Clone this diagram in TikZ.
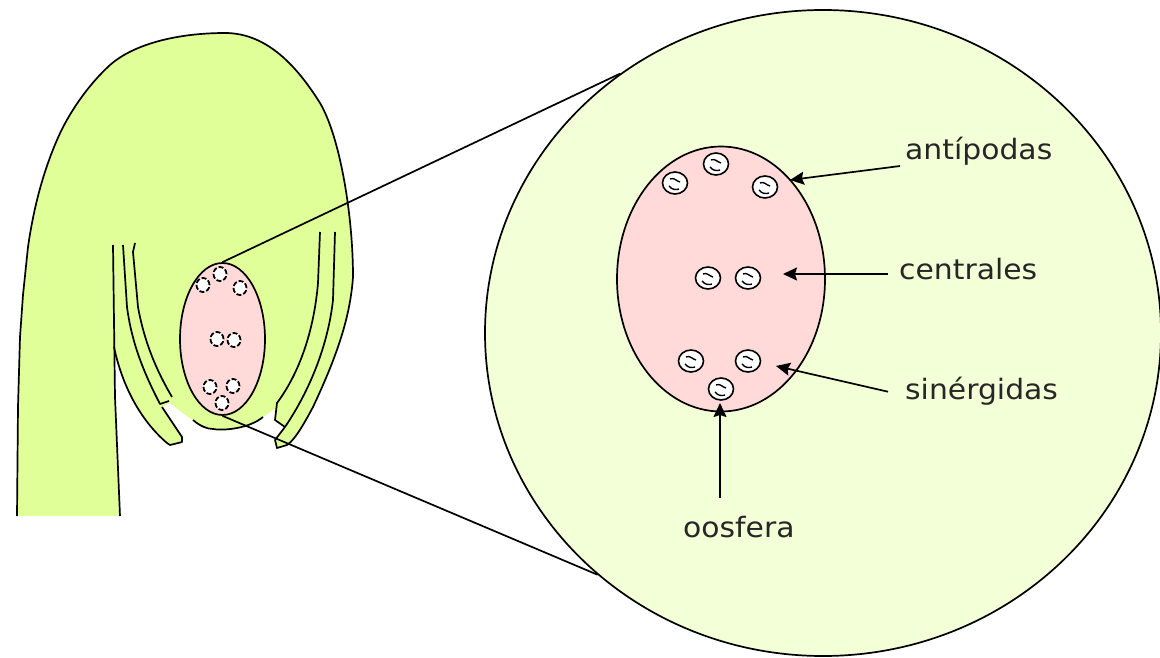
\documentclass[tikz,border=0pt]{standalone}
\usepackage{fontspec}
\setmainfont{DejaVu Sans}
\usetikzlibrary{shapes.geometric,arrows.meta,calc}
\definecolor{tissue}{RGB}{224,255,153}
\definecolor{lens}{RGB}{243,255,214}
\definecolor{sac}{RGB}{255,218,216}
\tikzset{
  outline/.style={line width=1.7pt,black,line join=round},
  sacshape/.style={ellipse,draw,line width=1.7pt,fill=sac,inner sep=0pt},
  nucleus/.style={ellipse,draw,line width=1.6pt,fill=white,minimum width=25pt,minimum height=22pt,inner sep=0pt},
  smallnucleus/.style={ellipse,draw,line width=1.8pt,dash pattern=on 5pt off 2pt,fill=white,minimum width=13pt,minimum height=14pt,inner sep=0pt},
  pointer/.style={line width=1.7pt,-{Stealth[length=14pt,width=13pt,inset=2pt]}},
  tag/.style={font=\fontsize{28}{28}\selectfont,inner sep=0pt,text=black!85}
}
% contour of the pistil from the stalk over the top down to the right tip
\newcommand{\mainedge}{(17,516) -- (18,407) -- (20,337) -- (23,295) -- (28,247)
  .. controls (34,205) and (44,170) .. (57,140)
  .. controls (68,114) and (88,85) .. (110,65)
  .. controls (135,43) and (180,33) .. (225,33)
  .. controls (268,33) and (298,68) .. (320,103)
  .. controls (340,137) and (353,215) .. (353,277)
  .. controls (350,320) and (335,360) .. (313,407)
  .. controls (305,422) and (295,440) .. (287,445)
  -- (277,448) -- (275,440) -- (285,427)}
\begin{document}
\begin{tikzpicture}[x=1pt,y=-1pt]
\useasboundingbox (0,0) rectangle (1160,658);
% enlarged circle
\node[ellipse,draw,line width=1.7pt,fill=lens,minimum width=676pt,minimum height=646pt,inner sep=0pt] (lens) at (823,333) {};

% pistil tissue
\fill[tissue] \mainedge
  -- (275,420) -- (276,408)
  -- (263,417) .. controls (250,428) and (225,431) .. (213,429)
  .. controls (200,427) and (185,415) .. (170,403)
  -- (162,407) -- (182,437) -- (182,442) -- (170,445) -- (167,443)
  .. controls (140,420) and (122,385) .. (114,347)
  -- (115,397) -- (120,516) -- cycle;

% outer contour
\draw[outline] \mainedge;
% stalk edge and left integument
\draw[outline] (120,516) -- (115,397) -- (113,245);
\draw[outline] (114,347) .. controls (122,385) and (140,420) .. (167,443)
  -- (170,445) -- (182,442) -- (182,437) -- (162,407);
\draw[outline] (123,245) -- (127,307) .. controls (132,345) and (145,375) .. (160,404) -- (169,401);
\draw[outline] (135,243) -- (133,252) -- (138,307) .. controls (144,340) and (155,368) .. (172,397);
% right integument lines
\draw[outline] (320,232) -- (318,283) .. controls (314,330) and (300,372) .. (277,403) -- (275,420) -- (285,427);
\draw[outline] (335,232) -- (333,300) .. controls (328,345) and (310,390) .. (285,427);
% lower curve under the ovule
\draw[outline] (193,420) .. controls (200,426) and (207,429) .. (213,429)
  .. controls (225,431) and (250,428) .. (263,417);

\node[sacshape,minimum width=85pt,minimum height=152pt] (smallsac) at (222.5,339) {};
\node[smallnucleus] (s1) at (220,274) {};
\node[smallnucleus] (s2) at (203,285) {};
\node[smallnucleus] (s3) at (240,288) {};
\node[smallnucleus] (s4) at (217,339) {};
\node[smallnucleus] (s5) at (234,340) {};
\node[smallnucleus] (s6) at (210,387) {};
\node[smallnucleus] (s7) at (233,386) {};
\node[smallnucleus] (s8) at (222,403) {};

% lines joining the detail to its enlargement
\draw[line width=1.7pt] (smallsac.north) -- (lens.128);
\draw[line width=1.7pt] (smallsac.south) -- (lens.227.7);

\node[sacshape,minimum width=208pt,minimum height=265pt] (bigsac) at (721,279) {};
\foreach \n/\px/\py in {a/716/164,b/675/183,c/765/187,d/708/278,e/748/278,f/691/361,g/748/361,h/721/389}{
  \node[nucleus] (n\n) at (\px,\py) {};
  \draw[line width=1.4pt] (\px-5,\py-4) .. controls (\px-1,\py-6) and (\px+1,\py-2) .. (\px+5,\py-1);
  \draw[line width=1.4pt] (\px-6,\py+3) .. controls (\px-3,\py+7) and (\px+1,\py+7) .. (\px+4,\py+6);
}

% labels
\node[tag,anchor=base west] (antipodas) at (905,160) {\scalebox{1.065}[1]{antípodas}};
\node[tag,anchor=base west] (centrales) at (899,279) {\scalebox{1.065}[1]{centrales}};
\node[tag,anchor=base west] (sinergidas) at (905,399) {\scalebox{1.065}[1]{sinérgidas}};
\node[tag,anchor=base west] (oosfera) at (683,537) {\scalebox{1.065}[1]{oosfera}};

\coordinate (headA) at (790,180);
\coordinate (headC) at (783,274);
\coordinate (headS) at (776,366);
\coordinate (headO) at (720,403);
\draw[pointer] ($(antipodas.south west)+(-5,0)$) -- (headA);
\draw[pointer] ($(headC -| centrales.west)+(-11,0)$) -- (headC);
\draw[pointer] ($(sinergidas.west)+(-17,1)$) -- (headS);
\draw[pointer] ($(headO |- oosfera.north)+(0,-18)$) -- (headO);
\end{tikzpicture}
\end{document}
